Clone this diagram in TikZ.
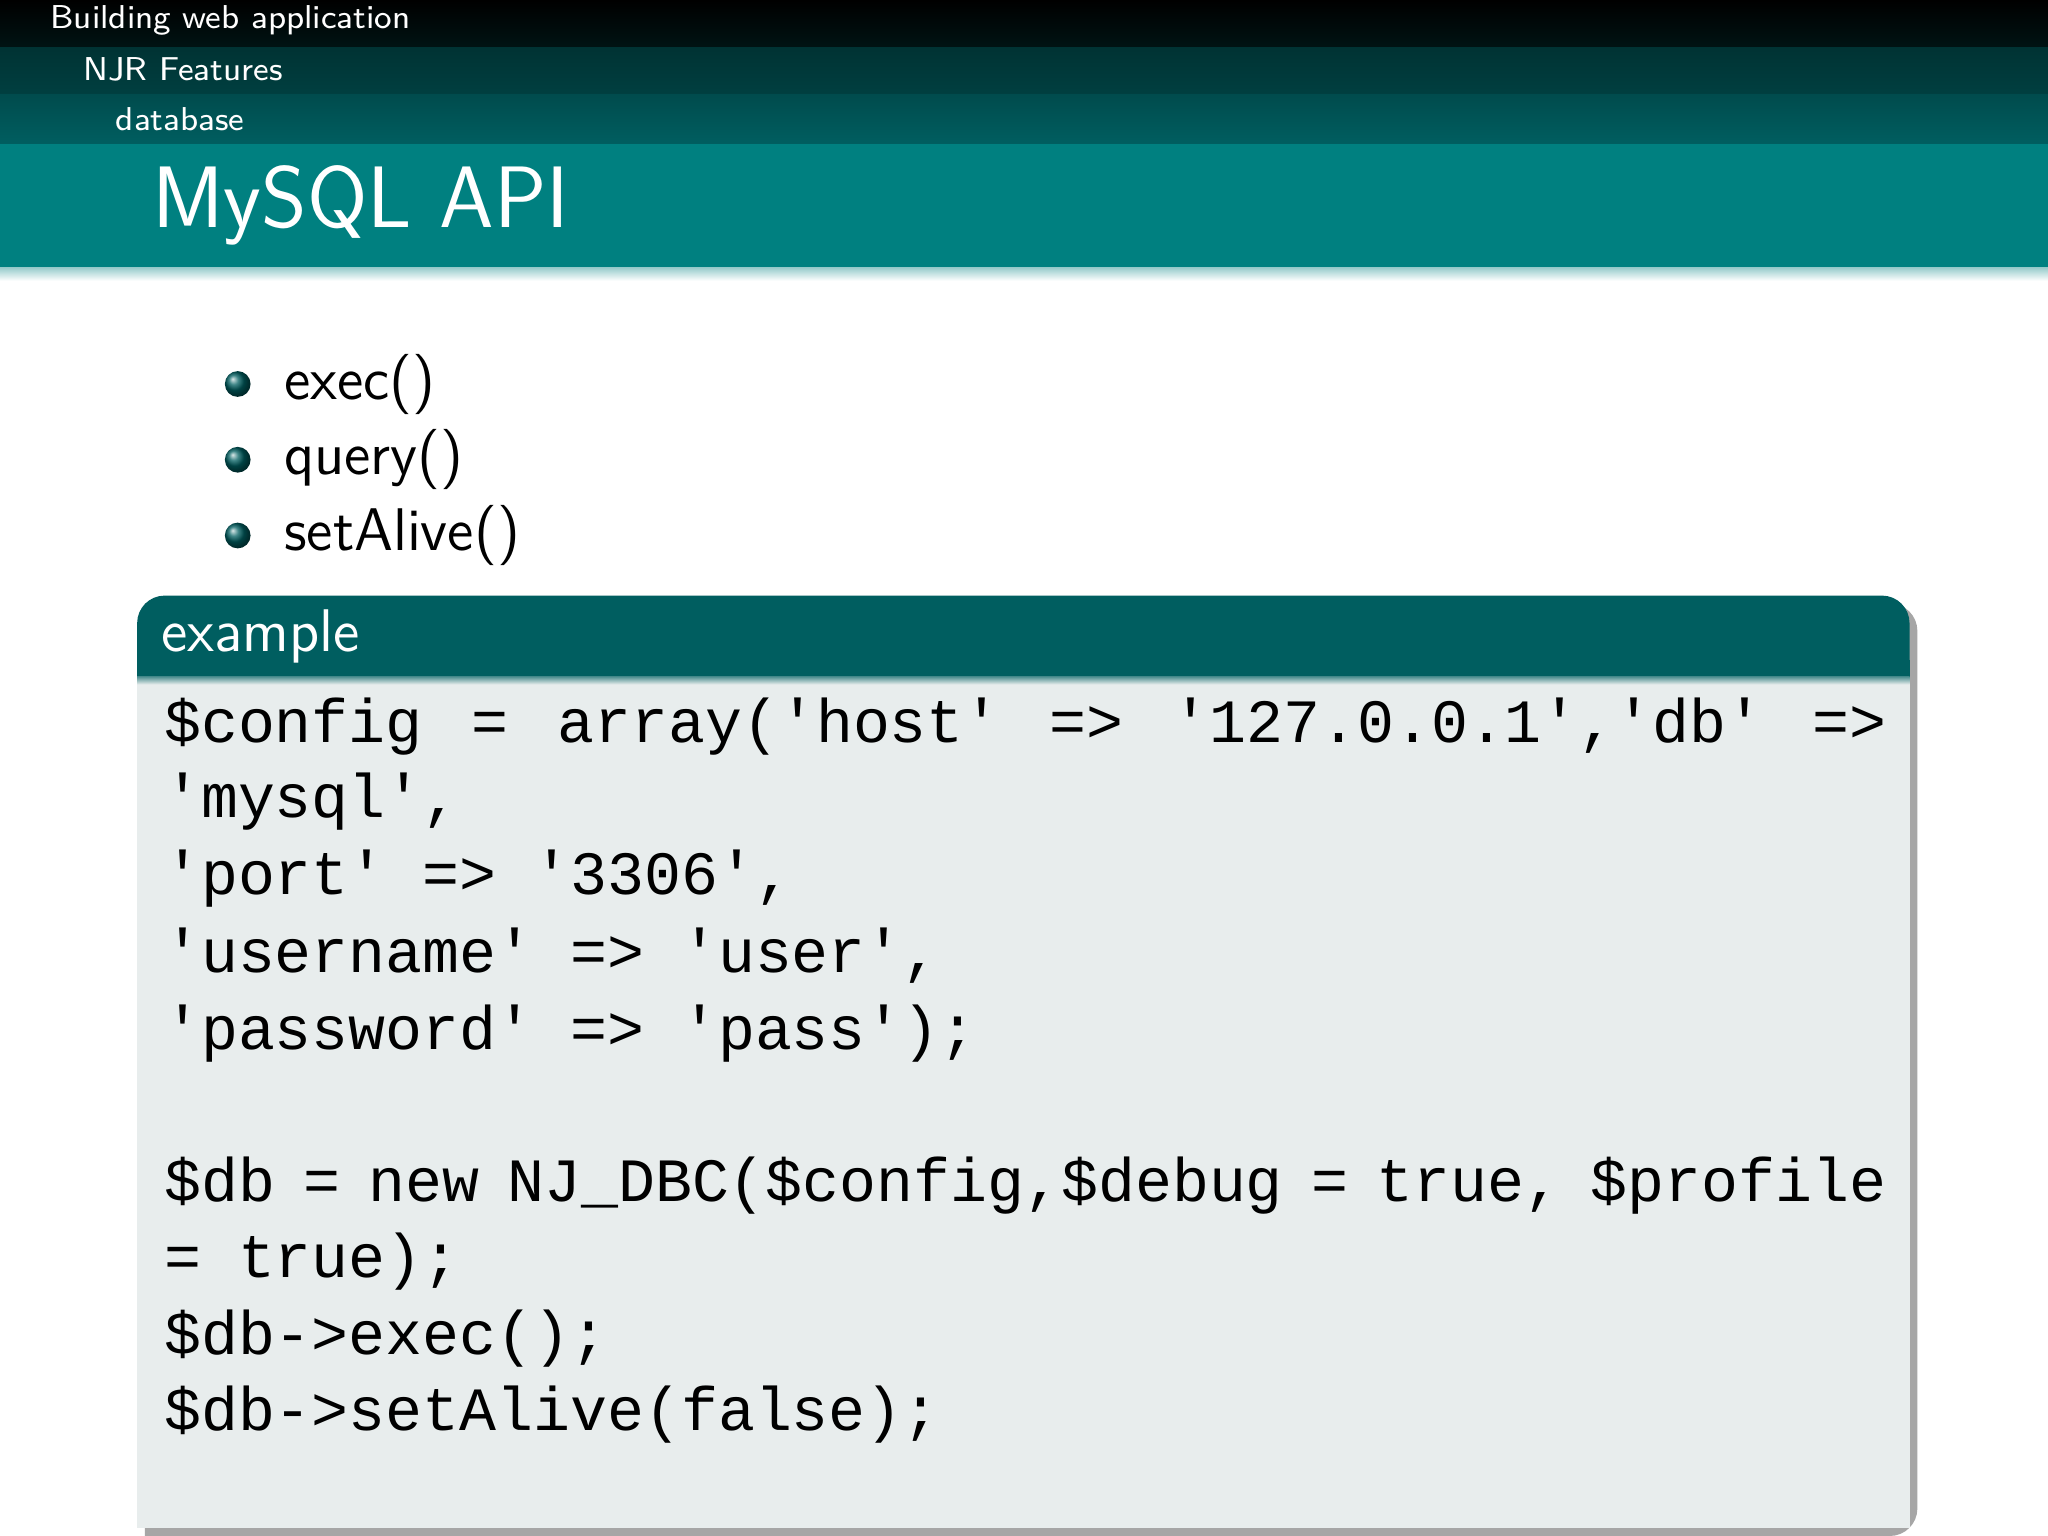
\documentclass[tikz,border=0pt]{standalone}
\usepackage{fontspec}
\newfontfamily\codefont{Liberation Mono}
\usetikzlibrary{shadows}
\definecolor{tealA}{HTML}{008080}
\definecolor{tealB}{HTML}{005E60}
\definecolor{tealC}{HTML}{003F40}
\definecolor{blockbg}{HTML}{E8EDED}
\tikzset{
  hdr/.style={anchor=west,text=white,font=\sffamily\fontsize{7.2}{9}\selectfont,inner sep=0},
  bul/.style={anchor=west,font=\sffamily\fontsize{13.1}{15}\selectfont,inner sep=0},
  ball/.style={circle,minimum size=5.6pt,inner sep=0,ball color=tealB},
  code/.style={anchor=west,font=\codefont\fontsize{13.4}{16}\selectfont,inner sep=0}
}
\begin{document}
\begin{tikzpicture}[x=0.01cm,y=-0.01cm]
\useasboundingbox (0,0) rectangle (1568,1176);
\fill[white] (0,0) rectangle (1568,1176);
% header bands
\shade[top color=black,bottom color=black!70!tealC] (0,0) rectangle (1568,36);
\shade[top color=tealC!80!black,bottom color=tealC] (0,36) rectangle (1568,72);
\shade[top color=tealB!80!black,bottom color=tealB] (0,72) rectangle (1568,110);
\fill[tealA] (0,110) rectangle (1568,205);
\shade[top color=tealA!40,bottom color=white] (0,205) rectangle (1568,215);
\node[hdr] (h1) at (38,16) {Building web application};
\node[hdr] (h2) at (63,53) {NJR Features};
\node[hdr] (h3) at (88,91) {database};
\node[anchor=west,text=white,font=\sffamily\fontsize{19}{22}\selectfont,inner sep=0] (title) at (116,157) {MySQL API};
% bullets
\node[ball] (b1) at (182,294) {};
\node[ball] (b2) at (182,352) {};
\node[ball] (b3) at (182,410) {};
\node[bul] (t1) at (217,294) {exec()};
\node[bul] (t2) at (217,352) {query()};
\node[bul] (t3) at (217,410) {setAlive()};
% block
\fill[black!35] (111,462) [rounded corners=6pt] -- (1468,462) -- (1468,1176) [sharp corners] -- (111,1176) -- cycle;
\fill[blockbg] (105,518) rectangle (1462,1170);
\fill[tealB,rounded corners=6pt] (105,518) -- (105,456) -- (1462,456) -- (1462,518);
\fill[tealB] (105,505) rectangle (1462,518);
\shade[top color=tealB!70,bottom color=blockbg] (105,518) rectangle (1462,524);
\node[anchor=west,text=white,font=\sffamily\fontsize{13.1}{15}\selectfont,inner sep=0] (ex) at (123,487) {example};
% code
\node[code] (c1) at (125,556) {\makebox[13.18cm][s]{\$config = array('host' => '127.0.0.1','db' =>}};
\node[code] (c2) at (125,614) {'mysql',};
\node[code] (c3) at (125,673) {'port' => '3306',};
\node[code] (c4) at (125,732) {'username' => 'user',};
\node[code] (c5) at (125,791) {'password' => 'pass');};
\node[code] (c6) at (125,908) {\makebox[13.18cm][s]{\$db = new NJ\_DBC(\$config,\$debug = true, \$profile}};
\node[code] (c7) at (125,966) {= true);};
\node[code] (c8) at (125,1025) {\$db->exec();};
\node[code] (c9) at (125,1083) {\$db->setAlive(false);};
\end{tikzpicture}
\end{document}
